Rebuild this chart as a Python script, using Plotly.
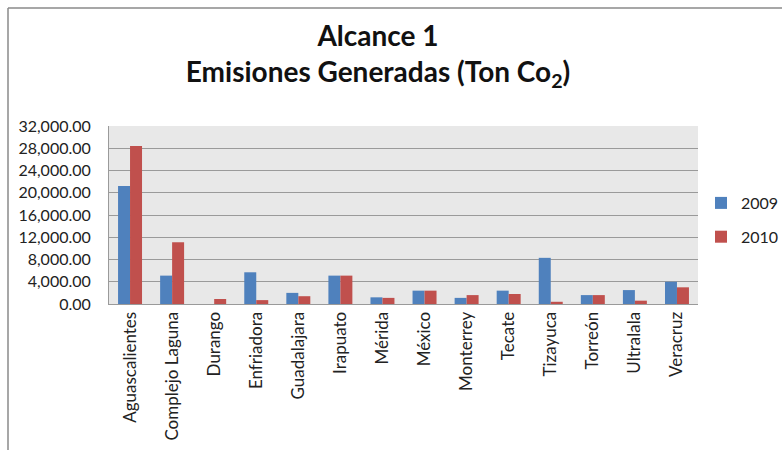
import plotly.graph_objects as go

categories = ["Aguascalientes", "Complejo Laguna", "Durango", "Enfriadora", "Guadalajara",
              "Irapuato", "Mérida", "México", "Monterrey", "Tecate", "Tizayuca",
              "Torreón", "Ultralala", "Veracruz"]
values_2009 = [21200, 5100, 0, 5700, 2000, 5100, 1200, 2400, 1100, 2400, 8300, 1600, 2500, 4000]
values_2010 = [28400, 11100, 900, 700, 1400, 5100, 1100, 2400, 1600, 1800, 400, 1600, 600, 3000]
series_names = ["2009", "2010"]
tick_values = [0, 4000, 8000, 12000, 16000, 20000, 24000, 28000, 32000]

W, H = 782, 450
ML, MR, MT, MB = 109, 84, 126, 146
pw = W - ML - MR
ph = H - MT - MB

FONT = "Lato, Open Sans, sans-serif"

fig = go.Figure()
fig.add_trace(go.Bar(x=categories, y=values_2009, name=series_names[0],
                     marker=dict(color="#4F81BD", line=dict(width=0)), legendgroup="a"))
fig.add_trace(go.Bar(x=categories, y=values_2010, name=series_names[1],
                     marker=dict(color="#C0504D", line=dict(width=0)), legendgroup="b"))

def px_x(p):
    return (p - ML) / pw

def px_y(p):
    return (H - MB - p) / ph

shapes = [
    dict(type="line", xref="paper", yref="paper", x0=px_x(8), x1=px_x(782), y0=px_y(8), y1=px_y(8),
         line=dict(color="#8a8a8a", width=1.5)),
    dict(type="line", xref="paper", yref="paper", x0=px_x(8), x1=px_x(8), y0=px_y(8), y1=px_y(450),
         line=dict(color="#8a8a8a", width=1.5)),
]

fig.update_layout(
    width=W, height=H,
    margin=dict(l=ML, r=MR, t=MT, b=MB, autoexpand=False),
    paper_bgcolor="white",
    plot_bgcolor="#E8E8E8",
    font=dict(family=FONT, color="#222222", size=16),
    title=dict(text="<b>Alcance 1<br>Emisiones Generadas (Ton Co<sub>2</sub>)</b>",
               font=dict(size=28, color="#111111", family=FONT),
               xref="container", x=378 / W, xanchor="center",
               yref="container", y=1 - 46 / H, yanchor="middle"),
    barmode="group",
    bargap=0.43,
    bargroupgap=0.0,
    showlegend=True,
    legend=dict(x=px_x(701), xanchor="left", y=px_y(220), yanchor="middle",
                font=dict(size=16, color="#222222"), tracegroupgap=10,
                traceorder="grouped", bgcolor="rgba(0,0,0,0)", itemwidth=30),
    shapes=shapes,
)
fig.update_xaxes(tickangle=-90, showline=True, linecolor="#9a9a9a", linewidth=1,
                 ticks="", showgrid=False, tickfont=dict(size=17))
fig.update_yaxes(range=[0, 32000], tickvals=tick_values, tickformat=",.2f",
                 showgrid=True, gridcolor="#9a9a9a", gridwidth=1,
                 showline=True, linecolor="#9a9a9a", linewidth=1, zeroline=False,
                 ticks="", tickfont=dict(size=16), ticklabelstandoff=14)

fig.write_html("out.html", config={"displayModeBar": False},
               post_script="document.body.style.margin='0';")
